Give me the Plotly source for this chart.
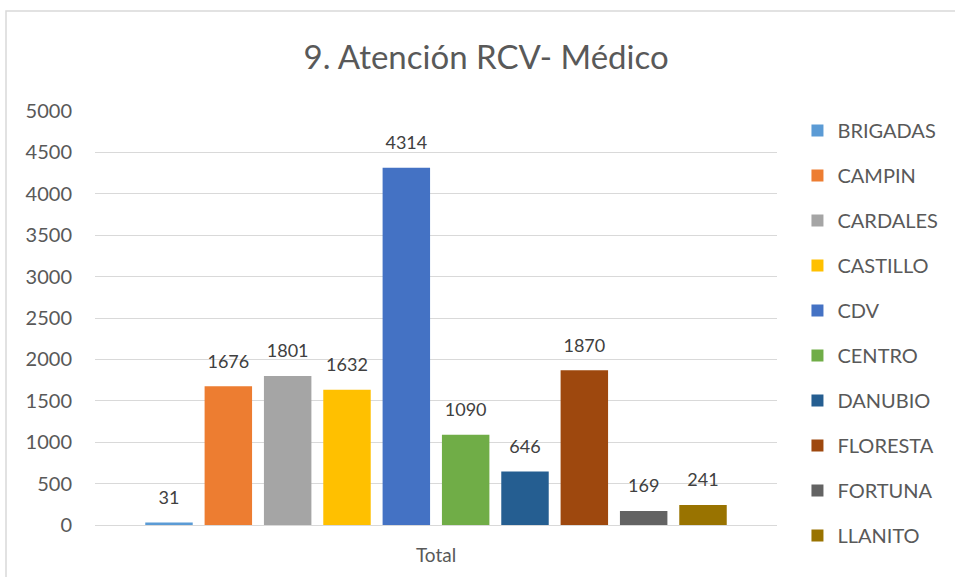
import plotly.graph_objects as go

sedes = ["BRIGADAS", "CAMPIN", "CARDALES", "CASTILLO", "CDV",
         "CENTRO", "DANUBIO", "FLORESTA", "FORTUNA", "LLANITO"]
valores = [31, 1676, 1801, 1632, 4314, 1090, 646, 1870, 169, 241]
colores = ["#5B9BD5", "#ED7D31", "#A5A5A5", "#FFC000", "#4472C4",
           "#70AD47", "#255E91", "#9E480E", "#636363", "#997300"]
categoria = ["Total"]
y_ticks = [0, 500, 1000, 1500, 2000, 2500, 3000, 3500, 4000, 4500, 5000]

FONT = "Lato, 'Open Sans', sans-serif"

fig = go.Figure()
for nombre, valor, color in zip(sedes, valores, colores):
    fig.add_trace(go.Bar(
        x=categoria,
        y=[valor],
        name=nombre,
        legendgroup=nombre,
        marker=dict(color=color, line=dict(width=0)),
        hoverinfo="name+y",
    ))

# etiquetas de datos: scatter agrupado para poder separarlas de la barra
for nombre, valor in zip(sedes, valores):
    fig.add_trace(go.Scatter(
        x=categoria,
        y=[valor],
        mode="markers+text",
        text=[valor],
        textposition="top center",
        textfont=dict(size=18, color="#404040", family=FONT),
        marker=dict(size=21, opacity=0),
        showlegend=False,
        hoverinfo="skip",
        cliponaxis=False,
    ))

fig.update_layout(
    width=955,
    height=577,
    barmode="group",
    bargap=0.13,
    bargroupgap=0.2,
    scattermode="group",
    scattergap=0.13,
    paper_bgcolor="white",
    plot_bgcolor="white",
    margin=dict(l=95, r=178, t=111, b=52),
    font=dict(family=FONT, color="#595959"),
    title=dict(
        text="9. Atención RCV- Médico",
        x=0.509, xanchor="center",
        y=0.9, yanchor="middle",
        font=dict(size=33, color="#595959", family=FONT),
    ),
    showlegend=True,
    legend=dict(
        x=1.03, xanchor="left",
        y=1.0, yanchor="top",
        font=dict(size=20, color="#595959", family=FONT),
        tracegroupgap=16,
        itemwidth=30,
        maxheight=600,
        bgcolor="rgba(0,0,0,0)",
    ),
)

fig.update_yaxes(
    range=[0, 5000],
    tickvals=y_ticks,
    showgrid=True,
    gridcolor="#D9D9D9",
    gridwidth=1,
    zeroline=False,
    showline=False,
    ticks="",
    ticklabelstandoff=22,
    tickfont=dict(size=20, color="#595959", family=FONT),
)
fig.update_xaxes(
    showgrid=False,
    showline=True,
    linecolor="#D9D9D9",
    linewidth=1,
    ticks="",
    ticklabelstandoff=13,
    tickfont=dict(size=19, color="#595959", family=FONT),
)

# marco del gráfico, como en la hoja de cálculo original
fig.add_shape(
    type="rect",
    xref="paper", yref="paper",
    x0=(6 - 95) / 682, x1=(962 - 95) / 682,
    y0=(525 - 590) / 414, y1=(525 - 11) / 414,
    line=dict(color="#D9D9D9", width=1.5),
    fillcolor="rgba(0,0,0,0)",
    layer="below",
)

fig.write_html(
    "out.html",
    config={"displayModeBar": False},
    post_script="document.body.style.margin='0px';",
)
